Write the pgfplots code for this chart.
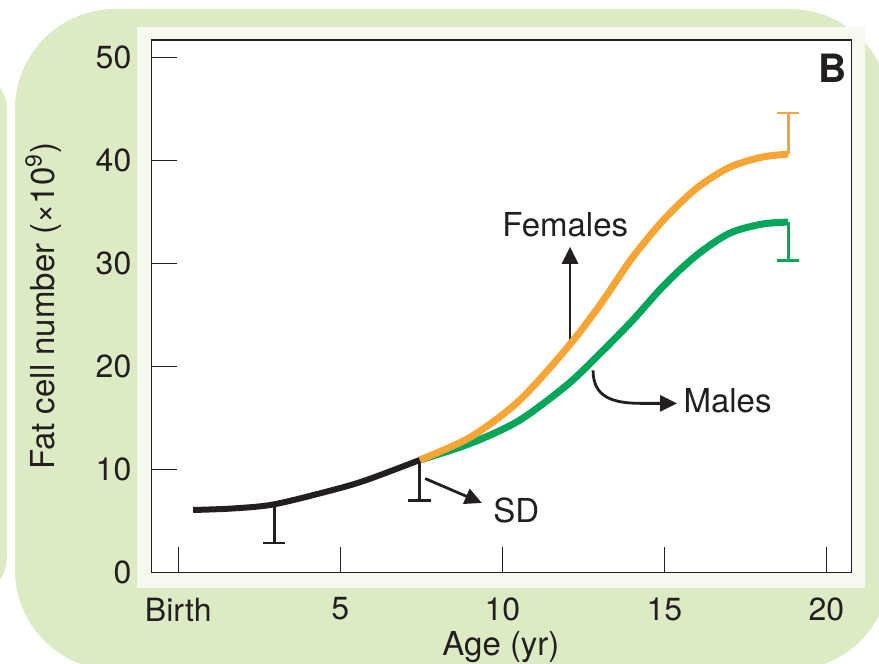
\documentclass[border=0pt]{standalone}
\usepackage{fontspec}
\setmainfont{TeX Gyre Heros}
\usepackage{pgfplots}
\pgfplotsset{compat=1.18}
\usetikzlibrary{arrows.meta}
\definecolor{panelgreen}{RGB}{221,235,197}
\definecolor{panellight}{RGB}{245,249,238}
\definecolor{forange}{RGB}{247,165,52}
\definecolor{mgreen}{RGB}{0,166,90}
\definecolor{ink}{RGB}{35,31,32}
\begin{document}
\begin{tikzpicture}[x=1pt,y=1pt]
\path[use as bounding box] (0,0) rectangle (439.5,332);
\clip (0,0) rectangle (439.5,332);
\fill[panelgreen, rounded corners=20pt] (-40,33.5) rectangle (3.5,297);
\fill[panelgreen, rounded corners=50pt] (7.5,-3) rectangle (445,327.5);
\fill[panellight] (68.5,38) rectangle (432.5,318.5);
\begin{axis}[
  at={(75.85pt,45.85pt)}, anchor=south west,
  scale only axis, width=350pt, height=266.15pt,
  xmin=-0.82, xmax=20.78, ymin=0, ymax=51.68,
  axis background/.style={fill=white},
  axis line style={ink, line width=0.75pt},
  tick style={ink, line width=0.75pt},
  major tick length=12.5pt,
  tick align=inside,
  xtick pos=bottom, ytick pos=left,
  xtick={0,5,10,15,20}, xticklabels={Birth,5,10,15,20},
  ytick={0,10,20,30,40,50},
  /pgf/number format/assume math mode=true,
  tick label style={font=\fontsize{16}{19}\selectfont, text=ink},
  yticklabel style={inner sep=0pt, xshift=-10pt},
  xticklabel style={inner sep=0pt, yshift=-12.5pt},
  xlabel={Age (yr)},
  ylabel={Fat cell number (×10\textsuperscript{9})},
  label style={font=\fontsize{16.5}{19}\selectfont, text=ink},
  xlabel style={at={(axis description cs:0.499,-0.1554)}, anchor=base, inner sep=0pt},
  ylabel style={at={(axis description cs:-0.155,0.5)}, anchor=center, inner sep=0pt},
  clip=false,
]
% annotation arrows (drawn beneath curves)
\draw[ink, line width=1.4pt, -{Triangle[length=8.5pt,width=8pt]}] (axis cs:12.09,22.0) -- (axis cs:12.09,31.6);
\draw[ink, line width=1.4pt, -{Triangle[length=8.5pt,width=8pt]}] (axis cs:12.8,19.6) .. controls (axis cs:12.8,17.0) and (axis cs:13.4,16.4) .. (axis cs:14.3,16.4) -- (axis cs:15.39,16.4);
\draw[ink, line width=1.4pt, -{Triangle[length=8.5pt,width=8pt]}] (axis cs:7.62,9.1) -- (axis cs:9.37,6.73);
% error bars
\addplot[draw=none, forget plot, error bars/.cd, y dir=minus, y explicit,
  error bar style={draw=ink, line width=1.4pt},
  error mark options={draw=ink, line width=1.4pt, mark size=5.6pt, rotate=90}]
  coordinates {(2.96,6.6) +- (0,3.75) (7.44,10.9) +- (0,3.9)};
\addplot[draw=none, forget plot, error bars/.cd, y dir=plus, y explicit,
  error bar style={draw=forange, line width=1.4pt},
  error mark options={draw=forange, line width=1.4pt, mark size=5.6pt, rotate=90}]
  coordinates {(18.82,40.6) +- (0,4.0)};
\addplot[draw=none, forget plot, error bars/.cd, y dir=minus, y explicit,
  error bar style={draw=mgreen, line width=1.4pt},
  error mark options={draw=mgreen, line width=1.4pt, mark size=5.6pt, rotate=90}]
  coordinates {(18.82,34.0) +- (0,3.7)};
% curves
\addplot[mgreen, line width=3.5pt, smooth, mark=none] coordinates {
(7.45,10.9) (9,12.5) (10.5,14.7) (12,18.2) (13,21.2) (14,24.4) (15,27.9) (16,30.8) (17,32.9) (18,33.8) (18.82,34.0)};
\addplot[forange, line width=3.5pt, smooth, mark=none] coordinates {
(7.45,10.9) (9,13.1) (10.5,16.6) (12,21.8) (13,25.9) (14,30.5) (15,34.3) (16,37.3) (17,39.3) (18,40.3) (18.82,40.6)};
\addplot[ink, line width=3pt, smooth, mark=none] coordinates {
(0.46,6.05) (1.7,6.2) (2.96,6.6) (4.78,8.0) (5.81,8.96) (7.45,10.9)};
% labels
\node[anchor=base west, inner sep=0pt, text=ink, font=\fontsize{16.5}{19}\selectfont] at (axis cs:9.99,32.6) {Females};
\node[anchor=base west, inner sep=0pt, text=ink, font=\fontsize{16.5}{19}\selectfont] at (axis cs:15.58,15.5) {Males};
\node[anchor=base west, inner sep=0pt, text=ink, font=\fontsize{16.5}{19}\selectfont] at (axis cs:9.71,4.8) {SD};
\node[anchor=base west, inner sep=0pt, text=ink, font=\bfseries\fontsize{19.5}{22}\selectfont] at (axis cs:19.74,47.6) {B};
\end{axis}
\end{tikzpicture}
\end{document}
